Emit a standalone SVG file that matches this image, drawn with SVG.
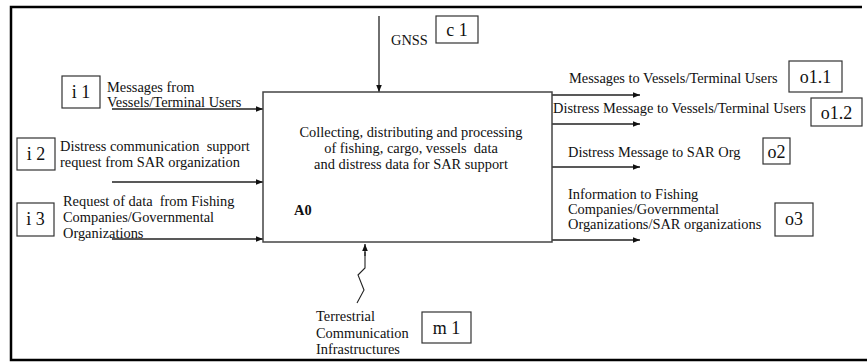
<svg xmlns="http://www.w3.org/2000/svg" width="867" height="362" viewBox="0 0 867 362">
  <style>
    text { font-family: "Liberation Serif", "Times New Roman", serif; fill: #111; white-space: pre; }
    .lbl { font-size: 14.4px; }
    .tag { font-size: 18px; }
    .bold { font-weight: bold; }
    .mid { text-anchor: middle; }
    .frame { fill: none; stroke: #000; stroke-width: 2.5; }
    .box { fill: #fff; stroke: #444; stroke-width: 1.5; }
    .tagbox { fill: #fff; stroke: #333; stroke-width: 1.2; }
    .flow { fill: none; stroke: #222; stroke-width: 1.3; marker-end: url(#arrow); }
    .zig { fill: none; stroke: #222; stroke-width: 1.1; }
  </style>
  <defs>
    <marker id="arrow" viewBox="0 0 10 8" refX="10" refY="4" markerWidth="7" markerHeight="5.6" markerUnits="userSpaceOnUse" orient="auto">
      <path d="M0,0 L10,4 L0,8 z" fill="#111"/>
    </marker>
  </defs>

  <rect width="867" height="362" fill="#fff"/>

  <!-- page frame (right side runs past the edge) -->
  <path class="frame" d="M862,7 L11,7 L11,360 L867,360"/>

  <!-- connectors -->
  <g id="connectors">
    <line class="flow" x1="112" y1="109" x2="263" y2="109"/>
    <line class="flow" x1="112" y1="182" x2="263" y2="182"/>
    <line class="flow" x1="112" y1="239" x2="263" y2="239"/>
    <line class="flow" x1="379" y1="16" x2="379" y2="92"/>
    <line class="flow" x1="552" y1="95" x2="640" y2="95"/>
    <line class="flow" x1="552" y1="124" x2="640" y2="124"/>
    <line class="flow" x1="552" y1="167" x2="640" y2="167"/>
    <line class="flow" x1="552" y1="240" x2="640" y2="240"/>
    <polyline class="zig" points="357,303 364,290 358,275 365,268 365,252"/>
    <line class="flow" x1="365" y1="256" x2="365" y2="244"/>
  </g>

  <!-- activity A0 -->
  <g id="activity-A0">
    <rect class="box" x="263" y="92" width="289" height="150"/>
    <text class="lbl mid" x="411" y="137">Collecting, distributing and processing</text>
    <text class="lbl mid" x="411" y="153">of fishing, cargo, vessels  data</text>
    <text class="lbl mid" x="411" y="169">and distress data for SAR support</text>
    <text class="lbl bold" x="294" y="215">A0</text>
  </g>

  <!-- inputs -->
  <g id="input-i1">
    <rect class="tagbox" x="62" y="76" width="38" height="32"/>
    <text class="tag mid" x="81" y="98">i 1</text>
    <text class="lbl" x="107" y="92">Messages from</text>
    <text class="lbl" x="107" y="107">Vessels/Terminal Users</text>
  </g>
  <g id="input-i2">
    <rect class="tagbox" x="17" y="138" width="38" height="32"/>
    <text class="tag mid" x="36" y="160">i 2</text>
    <text class="lbl" x="60" y="151">Distress communication  support</text>
    <text class="lbl" x="60" y="167">request from SAR organization</text>
  </g>
  <g id="input-i3">
    <rect class="tagbox" x="17" y="203" width="37" height="33"/>
    <text class="tag mid" x="35.5" y="225">i 3</text>
    <text class="lbl" x="63" y="206">Request of data  from Fishing</text>
    <text class="lbl" x="63" y="222">Companies/Governmental</text>
    <text class="lbl" x="63" y="238">Organizations</text>
  </g>

  <!-- control -->
  <g id="control-c1">
    <text class="lbl" x="391" y="45">GNSS</text>
    <rect class="tagbox" x="436" y="16" width="42" height="27"/>
    <text class="tag mid" x="457" y="36">c 1</text>
  </g>

  <!-- outputs -->
  <g id="output-o1-1">
    <text class="lbl" x="569" y="83">Messages to Vessels/Terminal Users</text>
    <rect class="tagbox" x="789" y="61" width="53" height="31"/>
    <text class="tag mid" x="815.5" y="83">o1.1</text>
  </g>
  <g id="output-o1-2">
    <text class="lbl" x="553" y="113">Distress Message to Vessels/Terminal Users</text>
    <rect class="tagbox" x="811" y="98" width="51" height="28"/>
    <text class="tag mid" x="836.5" y="119">o1.2</text>
  </g>
  <g id="output-o2">
    <text class="lbl" x="568" y="157">Distress Message to SAR Org</text>
    <rect class="tagbox" x="763" y="138" width="27" height="26"/>
    <text class="tag mid" x="776.5" y="158">o2</text>
  </g>
  <g id="output-o3">
    <text class="lbl" x="568" y="199">Information to Fishing</text>
    <text class="lbl" x="568" y="214">Companies/Governmental</text>
    <text class="lbl" x="568" y="229">Organizations/SAR organizations</text>
    <rect class="tagbox" x="775" y="203" width="38" height="33"/>
    <text class="tag mid" x="794" y="225">o3</text>
  </g>

  <!-- mechanism -->
  <g id="mechanism-m1">
    <text class="lbl" x="316" y="321">Terrestrial</text>
    <text class="lbl" x="316" y="338">Communication</text>
    <text class="lbl" x="316" y="354">Infrastructures</text>
    <rect class="tagbox" x="422" y="312" width="49" height="31"/>
    <text class="tag mid" x="446.5" y="334">m 1</text>
  </g>
</svg>
